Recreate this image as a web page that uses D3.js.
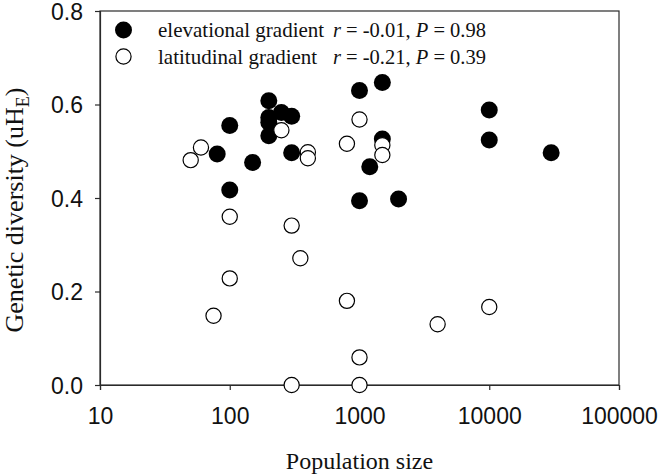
<!DOCTYPE html>
<html>
<head>
<meta charset="utf-8">
<script src="https://cdn.jsdelivr.net/npm/d3@7"></script>
<style>
  html, body { margin: 0; padding: 0; background: #fff; }
  svg { display: block; }
</style>
</head>
<body>
<svg id="chart" width="661" height="476"></svg>
<script>
// Elevational gradient (filled circles)
const elevPop = [80, 100, 100, 150, 200, 200, 200, 200, 250, 300, 300, 1000, 1000, 1200, 1500, 1500, 2000, 10000, 10000, 30000];
const elevDiv = [0.494, 0.555, 0.417, 0.476, 0.608, 0.572, 0.562, 0.533, 0.583, 0.575, 0.497, 0.630, 0.394, 0.467, 0.647, 0.526, 0.398, 0.588, 0.524, 0.497];
// Latitudinal gradient (open circles)
const latPop = [50, 60, 75, 100, 100, 250, 300, 300, 350, 400, 400, 800, 800, 1000, 1000, 1000, 1500, 1500, 4000, 10000];
const latDiv = [0.481, 0.508, 0.148, 0.360, 0.228, 0.545, 0.341, 0.000, 0.271, 0.498, 0.485, 0.516, 0.180, 0.568, 0.059, 0.000, 0.513, 0.492, 0.130, 0.167];

const xTicks = [10, 100, 1000, 10000, 100000];
const yTicks = [0.0, 0.2, 0.4, 0.6, 0.8];
const legendLabels = ["elevational gradient", "latitudinal gradient"];
const statR = ["-0.01", "-0.21"];
const statP = ["0.98", "0.39"];

(function () {
const svg = d3.select("#chart");
const mLeft = 100, mRight = 619, mTop = 11, mBottom = 385;

const x = d3.scaleLog().domain([10, 100000]).range([mLeft, mRight]);
const y = d3.scaleLinear().domain([0, 0.8]).range([mBottom, mTop]);

const axisColor = "#2a2a2a";

// frame
svg.append("rect")
  .attr("x", mLeft).attr("y", mTop)
  .attr("width", mRight - mLeft).attr("height", mBottom - mTop)
  .attr("fill", "none").attr("stroke", axisColor).attr("stroke-width", 1.2);

// axes
const xAxis = svg.append("g")
  .attr("transform", `translate(0,${mBottom})`)
  .call(d3.axisBottom(x).tickValues(xTicks).tickFormat(d3.format("d")).tickSize(5).tickPadding(20));
const yAxis = svg.append("g")
  .attr("transform", `translate(${mLeft},0)`)
  .call(d3.axisLeft(y).tickValues(yTicks).tickFormat(d3.format(".1f")).tickSize(5).tickPadding(12));

[xAxis, yAxis].forEach(g => {
  g.select(".domain").attr("stroke", axisColor).attr("stroke-width", 1.2);
  g.selectAll(".tick line").attr("stroke", axisColor).attr("stroke-width", 1.2);
  g.selectAll(".tick text")
    .attr("fill", "#111")
    .style("font-family", "'Liberation Sans', Arial, sans-serif")
    .style("font-size", "23px");
});
xAxis.selectAll(".tick text").attr("dy", "0.71em").attr("y", 23);
yAxis.selectAll(".tick text").attr("dy", "0.36em");

// points
const elev = elevPop.map((p, i) => ({p, v: elevDiv[i]}));
const lat = latPop.map((p, i) => ({p, v: latDiv[i]}));

svg.append("g").selectAll("circle").data(elev).join("circle")
  .attr("cx", d => x(d.p)).attr("cy", d => y(d.v)).attr("r", 8.5)
  .attr("fill", "#000");

svg.append("g").selectAll("circle").data(lat).join("circle")
  .attr("cx", d => x(d.p)).attr("cy", d => y(d.v)).attr("r", 7.6)
  .attr("fill", "#fff").attr("stroke", "#000").attr("stroke-width", 1.2);

// legend
const serif = "'Liberation Serif', 'Times New Roman', serif";
const legY = [30, 56.5];
svg.append("circle").attr("cx", 123.5).attr("cy", legY[0]).attr("r", 8.5).attr("fill", "#000");
svg.append("circle").attr("cx", 123.5).attr("cy", legY[1]).attr("r", 7.6)
  .attr("fill", "#fff").attr("stroke", "#000").attr("stroke-width", 1.2);

legendLabels.forEach((lab, i) => {
  svg.append("text").attr("x", 158).attr("y", legY[i] + 7)
    .style("font-family", serif).style("font-size", "21px").attr("fill", "#111")
    .text(lab);
  const t = svg.append("text").attr("x", 333).attr("y", legY[i] + 7)
    .style("font-family", serif).style("font-size", "20.5px").attr("fill", "#111");
  t.append("tspan").style("font-style", "italic").text("r");
  t.append("tspan").text(` = ${statR[i]}, `);
  t.append("tspan").style("font-style", "italic").text("P");
  t.append("tspan").text(` = ${statP[i]}`);
});

// axis titles
svg.append("text").attr("x", (mLeft + mRight) / 2).attr("y", 469)
  .attr("text-anchor", "middle")
  .style("font-family", serif).style("font-size", "24px").attr("fill", "#111")
  .text("Population size");

const yl = svg.append("text")
  .attr("transform", `translate(23,210) rotate(-90)`)
  .attr("text-anchor", "middle")
  .style("font-family", serif).style("font-size", "26px").attr("fill", "#111");
yl.append("tspan").text("Genetic diversity (uH");
yl.append("tspan").attr("dy", 6).style("font-size", "18px").text("E");
yl.append("tspan").attr("dy", -6).text(")");
})();
</script>
</body>
</html>
